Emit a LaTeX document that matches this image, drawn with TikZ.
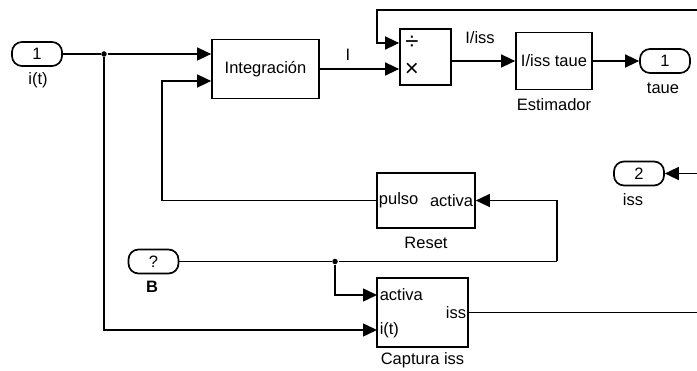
\documentclass[tikz,border=0pt]{standalone}
\usepackage{fontspec}
\setmainfont{Liberation Sans}
\usetikzlibrary{arrows.meta}

\begin{document}
\begin{tikzpicture}[x=1pt, y=-1pt, font=\fontsize{16.5}{19}\selectfont,
        line width=1.5pt,
        blk/.style={draw, line width=1.7pt, inner sep=0pt},
        port/.style={draw, line width=1.7pt, rounded corners=10pt,
                     minimum width=50pt, minimum height=24pt, inner sep=0pt},
        plabel/.style={inner sep=2pt},
        opsym/.style={font=\fontsize{24}{24}\selectfont, inner sep=0pt},
        sig/.style={-{Triangle[length=14pt, width=13pt]}},
        jdot/.style={circle, fill, inner sep=0pt, minimum size=5.5pt}]
      \useasboundingbox (0,0) rectangle (697,371);
      % blocks
      \node[port] (in1) at (37,54) {1};
      \node (in1lbl) at (38,80) {i(t)};
      \node[blk, minimum width=107pt, minimum height=59pt] (integ)
            at (265.5,69) {Integración};
      \node[blk, minimum width=51pt, minimum height=56pt] (prod) at (425.5,57) {};
      \node[opsym] (div) at (412,43) {÷};
      \node[opsym] (mul) at (412,70) {×};
      \node[blk, minimum width=76pt, minimum height=57pt] (est)
            at (554,61) {I/iss taue};
      \node (estlbl) at (554,105) {Estimador};
      \node[port] (out1) at (665,61) {1};
      \node (out1lbl) at (663,88) {taue};
      \node[port] (out2) at (639,173.5) {2};
      \node (out2lbl) at (633,200) {iss};
      \node[blk, minimum width=98pt, minimum height=55pt] (reset) at (426,200.5) {};
      \node[plabel, anchor=west] (rpul) at (reset.west) {pulso};
      \node[plabel, anchor=east] (ract) at (reset.east) {activa};
      \node (resetlbl) at (426,243) {Reset};
      \node[port] (inB) at (153.5,261.5) {?};
      \node[font=\fontsize{16.5}{19}\selectfont\bfseries] (inBlbl) at (152,287) {B};
      \node[blk, minimum width=91pt, minimum height=69pt] (capt) at (422.5,312.5) {};
      \node[plabel, anchor=west] (cact) at (377,295) {activa};
      \node[plabel, anchor=west] (cit) at (377,330) {i(t)};
      \node[plabel, anchor=east] (ciss) at (capt.east) {iss};
      \node (captlbl) at (422.5,360) {Captura iss};
      % signal names
      \node (lblI) at (348,55) {I};
      \node (lbliss) at (480,38) {I/iss};
      % branch points and free ends
      \node[jdot] (j1) at (104,54) {};
      \node[jdot] (j2) at (335,261.5) {};
      \coordinate (fb) at (162,81);
      \coordinate (dv) at (377,10);
      \coordinate (tr) at (697,10);
      \coordinate (issin) at (697,173.5);
      \coordinate (rb) at (557,261.5);
      \coordinate (cout) at (697,312.5);
      % lines
      \draw (in1) -- (j1);
      \draw[sig] (j1) -- (j1 -| integ.west);
      \draw[sig] (reset.west) -| (fb) -- (fb -| integ.west);
      \draw[sig] (integ.east) -- (integ.east -| prod.west);
      \draw[sig] (tr) -- (dv) |- (div -| prod.west);
      \draw[sig] (est.west -| prod.east) -- (est.west);
      \draw[sig] (est) -- (out1);
      \draw[sig] (issin) -- (out2);
      \draw (inB) -- (j2) -- (rb);
      \draw[sig] (rb) |- (reset.east);
      \draw[sig] (j2) |- (cact.west);
      \draw[sig] (j1) |- (cit.west);
      \draw (capt) -- (cout);
    \end{tikzpicture}
\end{document}
